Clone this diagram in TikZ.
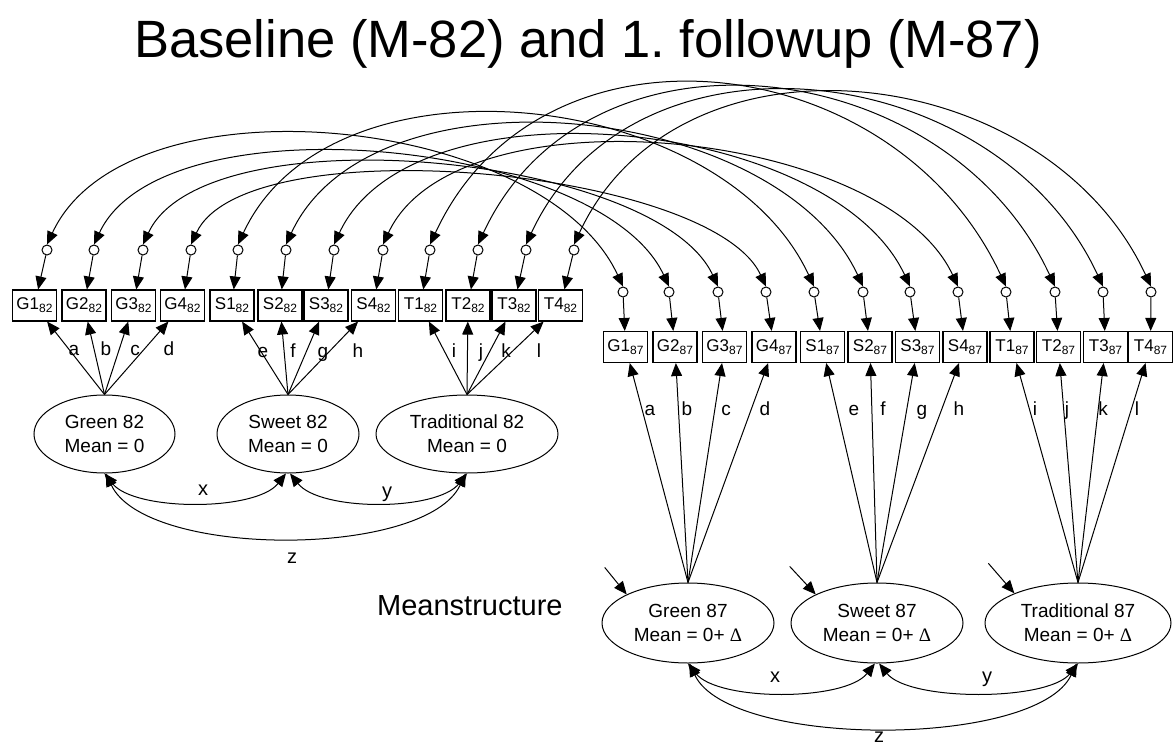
\documentclass[tikz,border=0pt]{standalone}
\usepackage{fontspec}
\setmainfont{Liberation Sans}
\newfontfamily\seriffont{Liberation Serif}
\usetikzlibrary{shapes.geometric,arrows.meta,calc}
\tikzset{
  obs/.style={draw, line width=1.1pt, minimum width=44pt, minimum height=31pt, inner sep=0pt, font=\fontsize{17}{17}\selectfont},
  err/.style={draw, circle, line width=1pt, minimum size=10pt, inner sep=0pt},
  lat/.style={draw, ellipse, line width=1pt, inner sep=0pt, align=center, font=\fontsize{19}{24}\selectfont},
  arr/.style={line width=1pt, -{Triangle[length=13pt,width=11pt]}},
  darr/.style={line width=1pt, {Triangle[length=13pt,width=11pt]}-{Triangle[length=13pt,width=11pt]}},
  lbl/.style={font=\fontsize{19}{19}\selectfont, anchor=base, inner sep=0pt},
  cvl/.style={font=\fontsize{20}{20}\selectfont, anchor=base, inner sep=0pt},
}
\newcommand{\indx}[2]{#1\raisebox{-3pt}{\fontsize{12}{12}\selectfont #2}}
\begin{document}
\begin{tikzpicture}[x=1pt,y=-1pt]
\useasboundingbox (0,0) rectangle (1173,744);
\node[font=\fontsize{52.5}{52.5}\selectfont, anchor=base, inner sep=0pt] (title) at (588,57) {Baseline (M-82) and 1.\ followup (M-87)};

\foreach \n/\bl/\cl/\br/\cr/\k [count=\i] in {
  G1/34.5/47/625.5/623/190, G2/84/94/675/669/163, G3/133.5/143/724.5/718/147, G4/182.5/191/774/766/131,
  S1/232/238/822.5/814/220, S2/280/286/870/863/204, S3/326/334/917.5/910/187, S4/373.5/383/965/958/175,
  T1/420.5/430/1012/1006/265, T2/468/478/1058.5/1055/259, T3/514/526/1105.5/1103/254, T4/560.5/574/1150.5/1151/251}
{
  \node[obs] (L\i) at (\bl,305.5) {\indx{\n}{82}};
  \node[err] (cl\i) at (\cl,250) {};
  \node[obs] (R\i) at (\br,347) {\indx{\n}{87}};
  \node[err] (cr\i) at (\cr,292) {};
  \draw[arr] (cl\i) -- (L\i);
  \draw[arr] (cr\i) -- (R\i);
  \draw[darr] (cl\i.north) .. controls +(0.42*\k,-0.906*\k) and +(-0.42*\k,-0.906*\k) .. (cr\i.north);
}

\node[lat, minimum width=141pt, minimum height=78pt] (G82) at (104.5,434) {Green 82\\Mean = 0};
\node[lat, minimum width=142pt, minimum height=78pt] (S82) at (288,434) {Sweet 82\\Mean = 0};
\node[lat, minimum width=182pt, minimum height=78pt] (T82) at (467,434) {Traditional 82\\Mean = 0};
\node[lat, minimum width=172pt, minimum height=80pt] (G87) at (688,623) {Green 87\\Mean = 0+ {\seriffont Δ}};
\node[lat, minimum width=172pt, minimum height=80pt] (S87) at (877,623) {Sweet 87\\Mean = 0+ {\seriffont Δ}};
\node[lat, minimum width=186pt, minimum height=80pt] (T87) at (1078,623) {Traditional 87\\Mean = 0+ {\seriffont Δ}};

\foreach \i in {1,...,4} {\draw[arr] (G82.north) -- (L\i); \draw[arr] (G87.north) -- (R\i);}
\foreach \i in {5,...,8} {\draw[arr] (S82.north) -- (L\i); \draw[arr] (S87.north) -- (R\i);}
\foreach \i in {9,...,12} {\draw[arr] (T82.north) -- (L\i); \draw[arr] (T87.north) -- (R\i);}

\foreach \t/\x/\y in {a/74/355, b/106/355, c/135/355, d/169/355, e/263/357, f/293/357, g/323/357, h/358/357, i/454/357, j/481/357, k/506/357, l/539/357}
  \node[lbl] (la\t) at (\x,\y) {\t};
\foreach \t/\x in {a/650, b/687, c/726, d/765, e/854, f/883, g/922, h/959, i/1035, j/1067, k/1103, l/1137}
  \node[lbl] (lb\t) at (\x,415) {\t};

\draw[darr] (G82.south) .. controls +(30,38) and +(-30,38) .. (S82.-93);
\draw[darr] (S82.-87) .. controls +(30,38) and +(-30,38) .. (T82.south);
\draw[darr] (G82.-88) .. controls +(40,85) and +(-40,85) .. (T82.-92);
\node[cvl] (cx1) at (203,495) {x};
\node[cvl] (cy1) at (387,497) {y};
\node[cvl] (cz1) at (292,563) {z};

\draw[darr] (G87.south) .. controls +(30,38) and +(-30,38) .. (S87.-93);
\draw[darr] (S87.-87) .. controls +(30,38) and +(-30,38) .. (T87.south);
\draw[darr] (G87.-88) .. controls +(40,85) and +(-40,85) .. (T87.-92);
\node[cvl] (cx2) at (775,682) {x};
\node[cvl] (cy2) at (987,682) {y};
\node[cvl] (cz2) at (879,742) {z};

\coordinate (mG) at ($(G87.155)+(-22,-27)$);
\coordinate (mS) at ($(S87.155)+(-26,-28)$);
\coordinate (mT) at ($(T87.155)+(-26,-30)$);
\draw[arr] (mG) -- (G87.155);
\draw[arr] (mS) -- (S87.155);
\draw[arr] (mT) -- (T87.155);

\node[font=\fontsize{29}{29}\selectfont, anchor=base west, inner sep=0pt] (ms) at (377,615) {Meanstructure};
\end{tikzpicture}
\end{document}
